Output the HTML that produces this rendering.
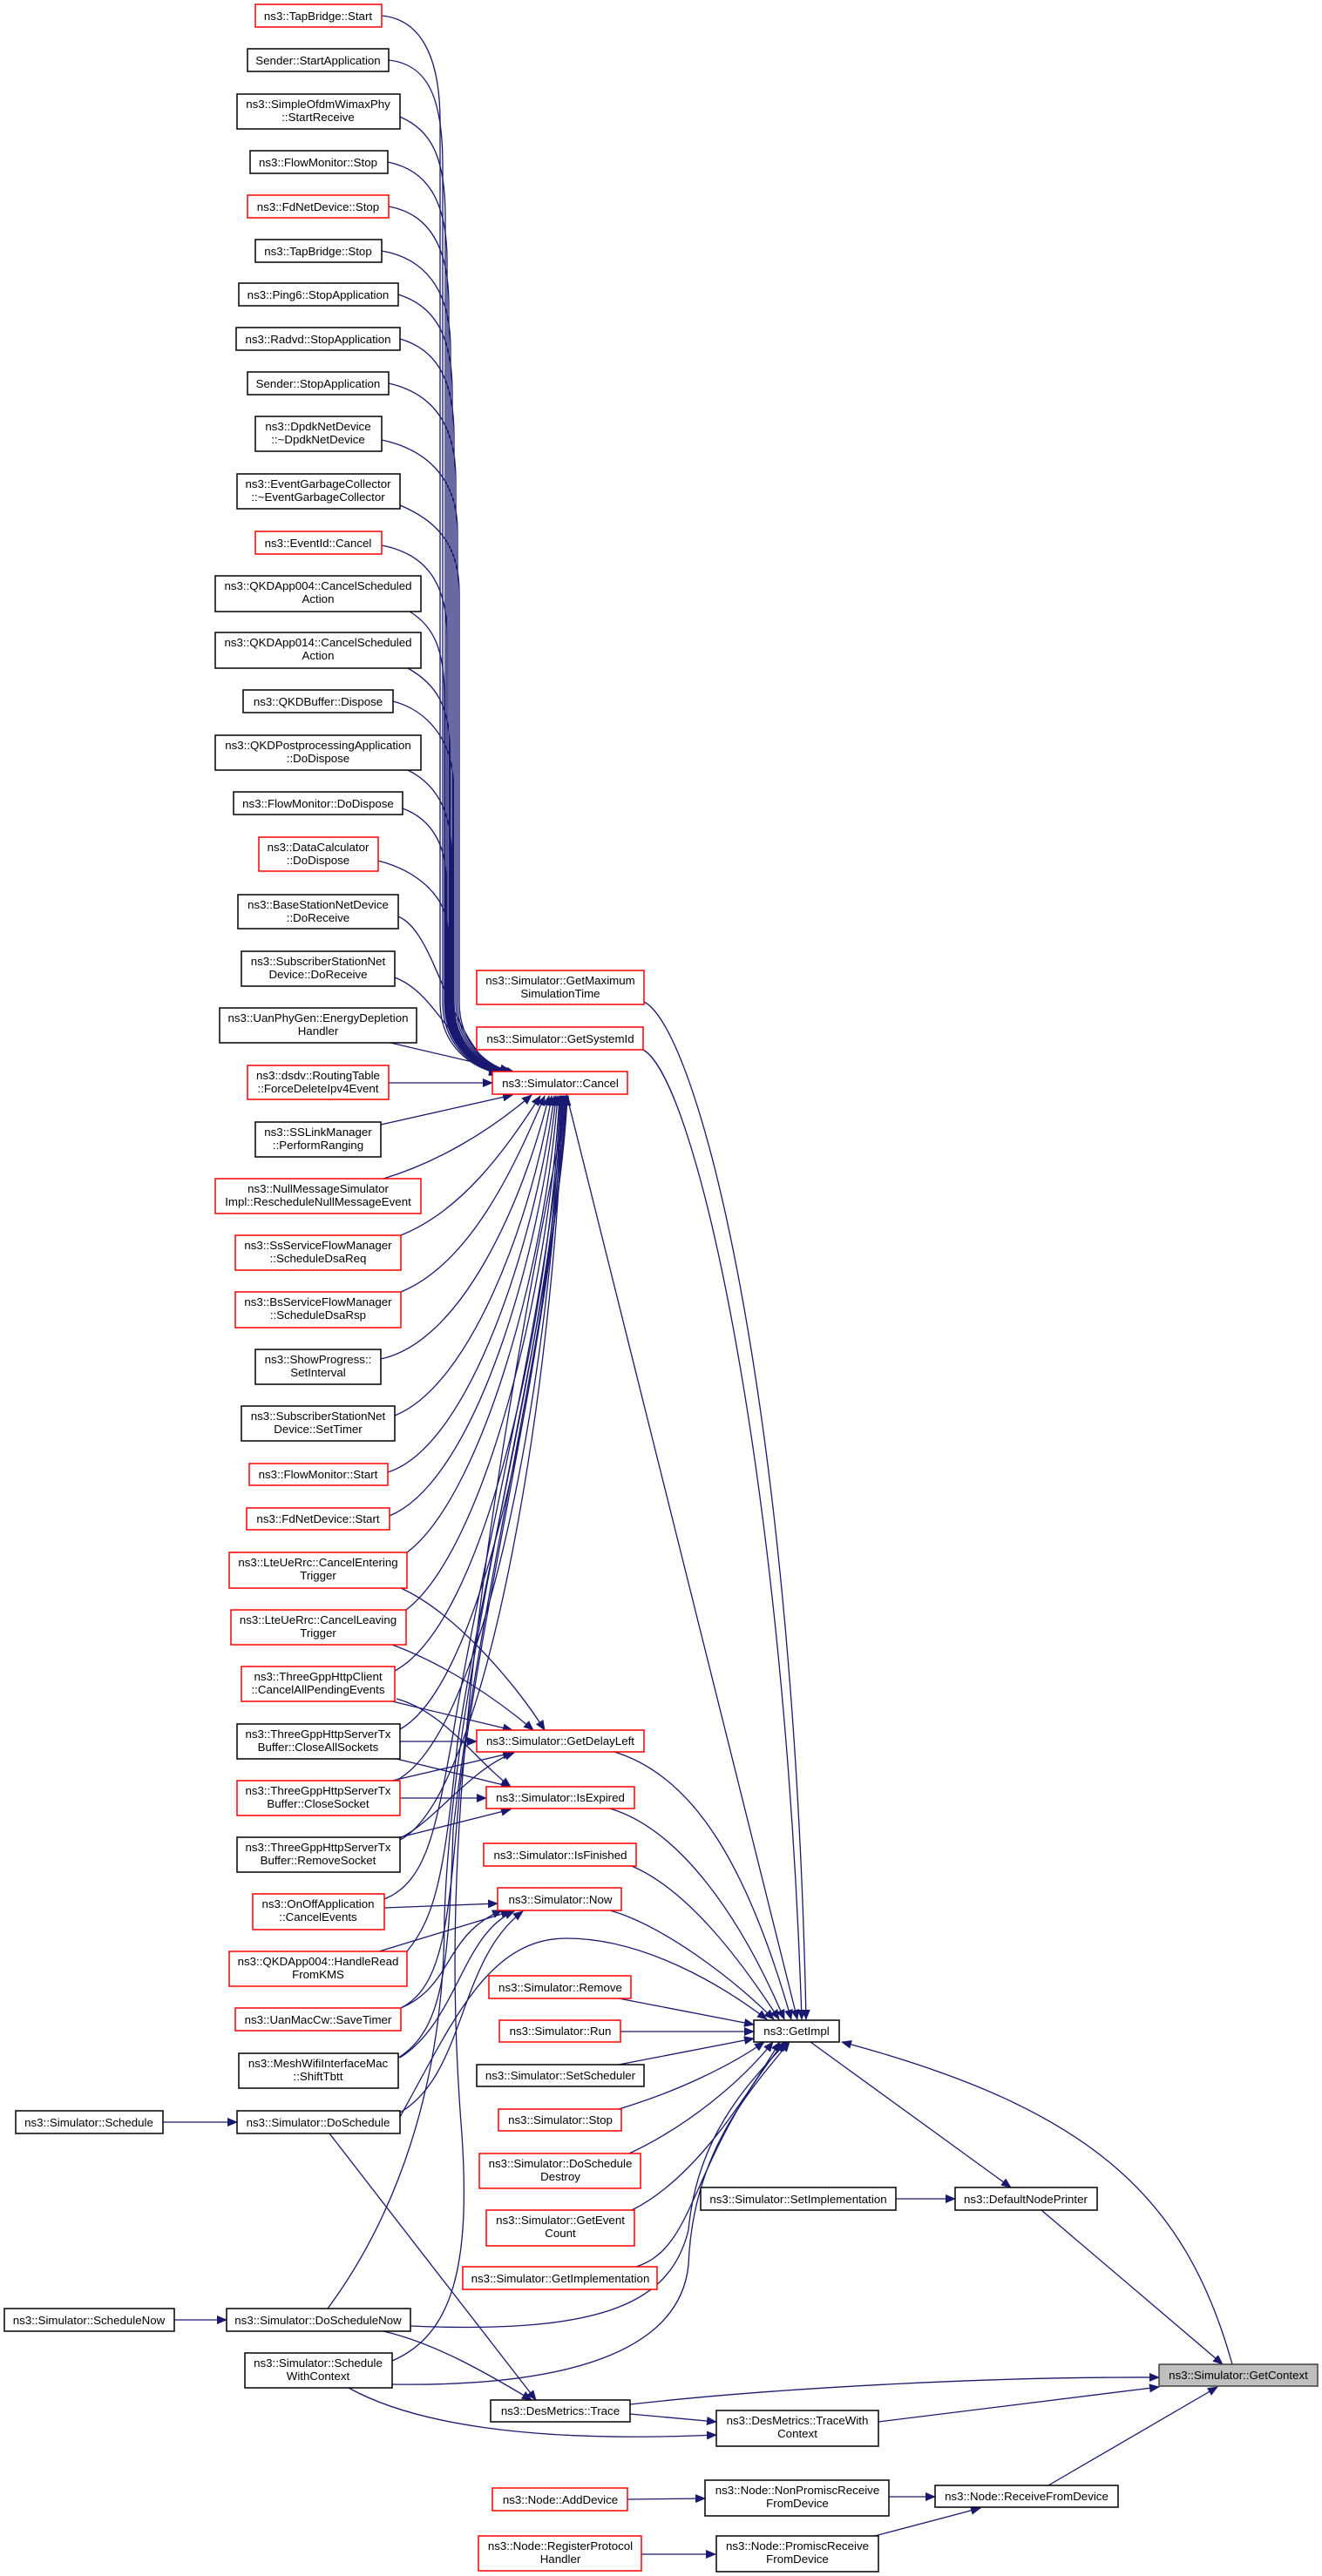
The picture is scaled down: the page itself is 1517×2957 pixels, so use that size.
<!DOCTYPE html>
<html><head><meta charset="utf-8"><style>
html,body{margin:0;padding:0;background:#fff}
svg{display:block}
text{font-family:"Liberation Sans",Arial,sans-serif;font-size:13.3px;fill:#000;text-anchor:middle}
.b{fill:#fff;stroke:#000;stroke-width:1.5}
.r{fill:#fff;stroke:#f00;stroke-width:1.5}
.g{fill:#bfbfbf;stroke:#404040;stroke-width:1.5}
path.e{fill:none;stroke:#191970;stroke-width:1.3;marker-end:url(#a)}
</style></head><body>
<svg width="1517" height="2957" viewBox="0 0 1517 2957" xmlns="http://www.w3.org/2000/svg">
<defs><marker id="a" markerUnits="userSpaceOnUse" markerWidth="12" markerHeight="10" refX="11" refY="5" orient="auto"><path d="M0,0 L12,5 L0,10 z" fill="#191970"/></marker></defs>

<!-- edges to Cancel from top group -->
<g>
<path class="e" d="M438,18 C480,22 505,60 505,140 L505,1150 C505,1200 540,1225 572,1232"/>
<path class="e" d="M446,69 C490,74 508,110 508,190 L508,1150 C508,1200 542,1225 574,1232"/>
<path class="e" d="M459,134 C495,150 511,180 511,250 L511,1150 C511,1200 544,1225 576,1232"/>
<path class="e" d="M445,186 C490,195 513,230 513,300 L513,1150 C513,1200 546,1225 578,1232"/>
<path class="e" d="M446,237 C490,245 515,280 515,350 L515,1150 C515,1200 548,1225 580,1232"/>
<path class="e" d="M438,288 C485,296 517,330 517,400 L517,1150 C517,1200 550,1225 582,1232"/>
<path class="e" d="M457,338 C495,350 519,380 519,450 L519,1150 C519,1200 552,1225 584,1232"/>
<path class="e" d="M459,389 C497,400 521,430 521,500 L521,1150 C521,1200 554,1225 586,1232"/>
<path class="e" d="M446,440 C490,450 523,480 523,550 L523,1150 C523,1200 556,1225 588,1232"/>
<path class="e" d="M438,505 C485,515 525,545 525,610 L525,1150 C525,1200 558,1225 590,1232"/>
<path class="e" d="M459,580 C495,595 527,620 527,680 L527,1150 C527,1200 560,1225 592,1232"/>
<path class="e" d="M438,626 C485,635 513,665 513,730 L513,1150 C513,1200 546,1225 578,1232"/>
<path class="e" d="M470,702 C500,720 510,750 510,800 L510,1150 C510,1200 544,1225 576,1232"/>
<path class="e" d="M468,767 C500,785 516,810 516,860 L516,1150 C516,1200 550,1225 582,1232"/>
<path class="e" d="M451,805 C490,815 520,850 520,900 L520,1150 C520,1200 552,1225 584,1232"/>
<path class="e" d="M468,884 C500,900 518,930 518,980 L518,1150 C518,1200 550,1225 582,1232"/>
<path class="e" d="M462,928 C495,940 512,970 512,1010 L512,1150 C512,1200 546,1225 578,1232"/>
<path class="e" d="M434,988 C480,1000 514,1030 514,1070 L514,1150 C514,1200 548,1225 580,1232"/>
<path class="e" d="M457,1052 C500,1070 510,1180 572,1234"/>
<path class="e" d="M453,1122 C500,1140 515,1200 572,1236"/>
<path class="e" d="M448,1197 L585,1229"/>
<path class="e" d="M446,1243 L565,1243"/>
</g>
<!-- edges to Cancel from bottom group -->
<g>
<path class="e" d="M437,1291 L588,1257"/>
<path class="e" d="M440,1353 C500,1335 560,1300 610,1257"/>
<path class="e" d="M460,1418 C530,1390 580,1320 620,1258"/>
<path class="e" d="M460,1483 C540,1450 590,1340 625,1258"/>
<path class="e" d="M437,1560 C530,1540 600,1380 630,1258"/>
<path class="e" d="M453,1625 C540,1590 610,1400 633,1258"/>
<path class="e" d="M445,1690 C540,1660 615,1420 636,1258"/>
<path class="e" d="M447,1740 C545,1700 620,1440 638,1258"/>
<path class="e" d="M467,1782 C550,1720 625,1460 640,1258"/>
<path class="e" d="M466,1848 C555,1780 630,1480 642,1258"/>
<path class="e" d="M453,1918 C560,1860 632,1500 643,1258"/>
<path class="e" d="M459,1985 C560,1930 634,1520 644,1258"/>
<path class="e" d="M450,2046 C560,2000 635,1550 645,1258"/>
<path class="e" d="M459,2112 C560,2060 637,1580 646,1258"/>
<path class="e" d="M441,2180 C490,2160 500,2100 520,1990 C550,1800 630,1500 647,1258"/>
<path class="e" d="M467,2240 C500,2200 510,2150 525,2000 C555,1800 635,1500 648,1258"/>
<path class="e" d="M460,2305 C510,2280 515,2200 528,2050 C560,1800 638,1500 649,1258"/>
<path class="e" d="M457,2362 C510,2330 515,2250 520,2100 C555,1800 638,1500 650,1258"/>
<path class="e" d="M376,2650 C450,2550 510,2400 510,2200 C520,1900 640,1500 651,1258"/>
<path class="e" d="M450,2710 C520,2680 540,2600 530,2450 C510,2200 520,1900 652,1258"/>
</g>
<!-- GetDelayLeft / IsExpired / Now -->
<g>
<path class="e" d="M460,1823 C520,1850 590,1930 625,1986"/>
<path class="e" d="M450,1888 C510,1910 570,1950 612,1986"/>
<path class="e" d="M450,1953 L588,1986"/>
<path class="e" d="M459,1999 L547,1999"/>
<path class="e" d="M450,2044 L588,2012"/>
<path class="e" d="M459,2110 C500,2090 540,2030 590,2012"/>
<path class="e" d="M455,1950 C510,1965 545,2020 586,2051"/>
<path class="e" d="M455,2019 L586,2051"/>
<path class="e" d="M459,2064 L558,2064"/>
<path class="e" d="M459,2109 L586,2077"/>
<path class="e" d="M441,2190 L571,2185"/>
<path class="e" d="M435,2240 L586,2194"/>
<path class="e" d="M460,2305 C520,2280 510,2220 576,2193"/>
<path class="e" d="M459,2362 C525,2320 530,2220 590,2194"/>
<path class="e" d="M459,2425 C535,2380 525,2250 600,2194"/>
</g>
<!-- to GetImpl -->
<g>
<path class="e" d="M650,1256 L915,2318"/>
<path class="e" d="M739,1150 C800,1180 910,1600 925,2318"/>
<path class="e" d="M738,1205 C800,1240 900,1700 920,2318"/>
<path class="e" d="M705,2011 C800,2040 860,2150 908,2318"/>
<path class="e" d="M700,2076 C780,2100 850,2200 900,2318"/>
<path class="e" d="M725,2142 C790,2170 850,2250 894,2318"/>
<path class="e" d="M700,2193 C760,2210 840,2270 888,2318"/>
<path class="e" d="M459,2430 C520,2320 560,2225 650,2225 C740,2225 830,2280 880,2318"/>
<path class="e" d="M710,2294 L865,2324"/>
<path class="e" d="M712,2332 L865,2332"/>
<path class="e" d="M710,2370 L865,2340"/>
<path class="e" d="M710,2421 C780,2400 840,2370 877,2344"/>
<path class="e" d="M722,2472 C790,2440 850,2390 887,2344"/>
<path class="e" d="M725,2537 C800,2500 860,2400 895,2344"/>
<path class="e" d="M730,2602 C800,2580 790,2480 900,2344"/>
<path class="e" d="M471,2670 C700,2680 770,2640 790,2560 C800,2450 860,2390 903,2344"/>
<path class="e" d="M450,2737 C650,2740 780,2700 790,2600 C795,2470 860,2400 906,2344"/>
<path class="e" d="M1414,2714 C1360,2520 1250,2420 966,2344"/>
</g>
<!-- right side -->
<g>
<path class="e" d="M930,2344 L1160,2511"/>
<path class="e" d="M1028,2524 L1096,2524"/>
<path class="e" d="M1195,2537 L1403,2714"/>
<path class="e" d="M723,2760 C900,2740 1150,2728 1330,2729"/>
<path class="e" d="M1008,2780 L1330,2740"/>
<path class="e" d="M1203,2853 L1397,2740"/>
<path class="e" d="M723,2771 L822,2780"/>
<path class="e" d="M400,2741 C470,2780 600,2805 822,2795"/>
<path class="e" d="M378,2449 L615,2755"/>
<path class="e" d="M440,2676 C500,2690 560,2725 610,2755"/>
<path class="e" d="M720,2869 L809,2868"/>
<path class="e" d="M736,2932 L821,2932"/>
<path class="e" d="M1019,2866 L1073,2866"/>
<path class="e" d="M1000,2912 L1125,2879"/>
<path class="e" d="M187,2436 L272,2436"/>
<path class="e" d="M200,2663 L260,2663"/>
</g>

<!-- nodes -->
<g>
<rect class="r" x="293" y="5" width="145" height="26"/><text x="365" y="23">ns3::TapBridge::Start</text>
<rect class="b" x="284" y="56" width="162" height="26"/><text x="365" y="74">Sender::StartApplication</text>
<rect class="b" x="272" y="108" width="187" height="40"/><text x="365" y="124">ns3::SimpleOfdmWimaxPhy</text><text x="365" y="139">::StartReceive</text>
<rect class="b" x="287" y="173" width="158" height="26"/><text x="365" y="191">ns3::FlowMonitor::Stop</text>
<rect class="r" x="284" y="224" width="162" height="26"/><text x="365" y="242">ns3::FdNetDevice::Stop</text>
<rect class="b" x="293" y="275" width="145" height="26"/><text x="365" y="293">ns3::TapBridge::Stop</text>
<rect class="b" x="274" y="325" width="183" height="26"/><text x="365" y="343">ns3::Ping6::StopApplication</text>
<rect class="b" x="271" y="376" width="188" height="26"/><text x="365" y="394">ns3::Radvd::StopApplication</text>
<rect class="b" x="284" y="427" width="162" height="26"/><text x="365" y="445">Sender::StopApplication</text>
<rect class="b" x="293" y="478" width="145" height="40"/><text x="365" y="494">ns3::DpdkNetDevice</text><text x="365" y="509">::~DpdkNetDevice</text>
<rect class="b" x="272" y="544" width="187" height="40"/><text x="365" y="560">ns3::EventGarbageCollector</text><text x="365" y="575">::~EventGarbageCollector</text>
<rect class="r" x="293" y="610" width="145" height="26"/><text x="365" y="628">ns3::EventId::Cancel</text>
<rect class="b" x="247" y="661" width="236" height="41"/><text x="365" y="677">ns3::QKDApp004::CancelScheduled</text><text x="365" y="692">Action</text>
<rect class="b" x="247" y="726" width="236" height="41"/><text x="365" y="742">ns3::QKDApp014::CancelScheduled</text><text x="365" y="757">Action</text>
<rect class="b" x="279" y="792" width="172" height="26"/><text x="365" y="810">ns3::QKDBuffer::Dispose</text>
<rect class="b" x="247" y="844" width="236" height="40"/><text x="365" y="860">ns3::QKDPostprocessingApplication</text><text x="365" y="875">::DoDispose</text>
<rect class="b" x="268" y="909" width="194" height="26"/><text x="365" y="927">ns3::FlowMonitor::DoDispose</text>
<rect class="r" x="297" y="961" width="137" height="39"/><text x="365" y="977">ns3::DataCalculator</text><text x="365" y="992">::DoDispose</text>
<rect class="b" x="273" y="1027" width="184" height="39"/><text x="365" y="1043">ns3::BaseStationNetDevice</text><text x="365" y="1058">::DoReceive</text>
<rect class="b" x="277" y="1092" width="176" height="40"/><text x="365" y="1108">ns3::SubscriberStationNet</text><text x="365" y="1123">Device::DoReceive</text>
<rect class="b" x="252" y="1157" width="226" height="40"/><text x="365" y="1173">ns3::UanPhyGen::EnergyDepletion</text><text x="365" y="1188">Handler</text>
<rect class="r" x="284" y="1223" width="162" height="39"/><text x="365" y="1239">ns3::dsdv::RoutingTable</text><text x="365" y="1254">::ForceDeleteIpv4Event</text>
<rect class="b" x="293" y="1288" width="144" height="40"/><text x="365" y="1304">ns3::SSLinkManager</text><text x="365" y="1319">::PerformRanging</text>
<rect class="r" x="247" y="1353" width="236" height="40"/><text x="365" y="1369">ns3::NullMessageSimulator</text><text x="365" y="1384">Impl::RescheduleNullMessageEvent</text>
<rect class="r" x="270" y="1418" width="190" height="40"/><text x="365" y="1434">ns3::SsServiceFlowManager</text><text x="365" y="1449">::ScheduleDsaReq</text>
<rect class="r" x="270" y="1483" width="190" height="41"/><text x="365" y="1499">ns3::BsServiceFlowManager</text><text x="365" y="1514">::ScheduleDsaRsp</text>
<rect class="b" x="293" y="1549" width="144" height="40"/><text x="365" y="1565">ns3::ShowProgress::</text><text x="365" y="1580">SetInterval</text>
<rect class="b" x="277" y="1614" width="176" height="40"/><text x="365" y="1630">ns3::SubscriberStationNet</text><text x="365" y="1645">Device::SetTimer</text>
<rect class="r" x="286" y="1680" width="159" height="25"/><text x="365" y="1697">ns3::FlowMonitor::Start</text>
<rect class="r" x="283" y="1731" width="164" height="25"/><text x="365" y="1748">ns3::FdNetDevice::Start</text>
<rect class="r" x="263" y="1782" width="204" height="41"/><text x="365" y="1798">ns3::LteUeRrc::CancelEntering</text><text x="365" y="1813">Trigger</text>
<rect class="r" x="265" y="1848" width="201" height="40"/><text x="365" y="1864">ns3::LteUeRrc::CancelLeaving</text><text x="365" y="1879">Trigger</text>
<rect class="r" x="277" y="1913" width="176" height="40"/><text x="365" y="1929">ns3::ThreeGppHttpClient</text><text x="365" y="1944">::CancelAllPendingEvents</text>
<rect class="b" x="272" y="1979" width="187" height="40"/><text x="365" y="1995">ns3::ThreeGppHttpServerTx</text><text x="365" y="2010">Buffer::CloseAllSockets</text>
<rect class="r" x="272" y="2044" width="187" height="40"/><text x="365" y="2060">ns3::ThreeGppHttpServerTx</text><text x="365" y="2075">Buffer::CloseSocket</text>
<rect class="b" x="272" y="2109" width="187" height="40"/><text x="365" y="2125">ns3::ThreeGppHttpServerTx</text><text x="365" y="2140">Buffer::RemoveSocket</text>
<rect class="r" x="290" y="2174" width="151" height="41"/><text x="365" y="2190">ns3::OnOffApplication</text><text x="365" y="2205">::CancelEvents</text>
<rect class="r" x="263" y="2240" width="204" height="40"/><text x="365" y="2256">ns3::QKDApp004::HandleRead</text><text x="365" y="2271">FromKMS</text>
<rect class="r" x="270" y="2305" width="190" height="26"/><text x="365" y="2323">ns3::UanMacCw::SaveTimer</text>
<rect class="b" x="274" y="2357" width="183" height="40"/><text x="365" y="2373">ns3::MeshWifiInterfaceMac</text><text x="365" y="2388">::ShiftTbtt</text>
<rect class="b" x="272" y="2423" width="187" height="26"/><text x="365" y="2441">ns3::Simulator::DoSchedule</text>
<rect class="b" x="18" y="2423" width="169" height="26"/><text x="102" y="2441">ns3::Simulator::Schedule</text>
<rect class="b" x="5" y="2650" width="195" height="26"/><text x="102" y="2668">ns3::Simulator::ScheduleNow</text>
<rect class="b" x="260" y="2650" width="211" height="26"/><text x="365" y="2668">ns3::Simulator::DoScheduleNow</text>
<rect class="b" x="281" y="2701" width="169" height="40"/><text x="365" y="2717">ns3::Simulator::Schedule</text><text x="365" y="2732">WithContext</text>

<rect class="r" x="547" y="1114" width="192" height="39"/><text x="643" y="1130">ns3::Simulator::GetMaximum</text><text x="643" y="1145">SimulationTime</text>
<rect class="r" x="547" y="1179" width="191" height="26"/><text x="643" y="1197">ns3::Simulator::GetSystemId</text>
<rect class="r" x="565" y="1230" width="155" height="26"/><text x="643" y="1248">ns3::Simulator::Cancel</text>
<rect class="r" x="547" y="1986" width="192" height="25"/><text x="643" y="2003">ns3::Simulator::GetDelayLeft</text>
<rect class="r" x="558" y="2051" width="170" height="25"/><text x="643" y="2068">ns3::Simulator::IsExpired</text>
<rect class="r" x="555" y="2116" width="175" height="26"/><text x="643" y="2134">ns3::Simulator::IsFinished</text>
<rect class="r" x="571" y="2167" width="142" height="26"/><text x="643" y="2185">ns3::Simulator::Now</text>
<rect class="r" x="561" y="2268" width="163" height="26"/><text x="643" y="2286">ns3::Simulator::Remove</text>
<rect class="r" x="573" y="2319" width="139" height="25"/><text x="643" y="2336">ns3::Simulator::Run</text>
<rect class="b" x="547" y="2370" width="192" height="25"/><text x="643" y="2387">ns3::Simulator::SetScheduler</text>
<rect class="r" x="572" y="2421" width="141" height="25"/><text x="643" y="2438">ns3::Simulator::Stop</text>
<rect class="r" x="550" y="2472" width="185" height="40"/><text x="643" y="2488">ns3::Simulator::DoSchedule</text><text x="643" y="2503">Destroy</text>
<rect class="r" x="558" y="2537" width="170" height="41"/><text x="643" y="2553">ns3::Simulator::GetEvent</text><text x="643" y="2568">Count</text>
<rect class="r" x="531" y="2602" width="223" height="26"/><text x="643" y="2620">ns3::Simulator::GetImplementation</text>
<rect class="b" x="563" y="2755" width="160" height="25"/><text x="643" y="2772">ns3::DesMetrics::Trace</text>
<rect class="r" x="565" y="2856" width="155" height="26"/><text x="643" y="2874">ns3::Node::AddDevice</text>
<rect class="r" x="549" y="2911" width="187" height="40"/><text x="643" y="2927">ns3::Node::RegisterProtocol</text><text x="643" y="2942">Handler</text>

<rect class="b" x="865" y="2319" width="98" height="25"/><text x="914" y="2336">ns3::GetImpl</text>
<rect class="b" x="804" y="2511" width="224" height="26"/><text x="916" y="2529">ns3::Simulator::SetImplementation</text>
<rect class="b" x="1096" y="2511" width="163" height="26"/><text x="1177" y="2529">ns3::DefaultNodePrinter</text>
<rect class="g" x="1330" y="2714" width="182" height="25"/><text x="1421" y="2731">ns3::Simulator::GetContext</text>
<rect class="b" x="822" y="2767" width="186" height="41"/><text x="915" y="2783">ns3::DesMetrics::TraceWith</text><text x="915" y="2798">Context</text>
<rect class="b" x="809" y="2847" width="211" height="41"/><text x="915" y="2863">ns3::Node::NonPromiscReceive</text><text x="915" y="2878">FromDevice</text>
<rect class="b" x="1073" y="2853" width="210" height="25"/><text x="1178" y="2870">ns3::Node::ReceiveFromDevice</text>
<rect class="b" x="822" y="2911" width="186" height="41"/><text x="915" y="2927">ns3::Node::PromiscReceive</text><text x="915" y="2942">FromDevice</text>
</g>
</svg>
</body></html>
